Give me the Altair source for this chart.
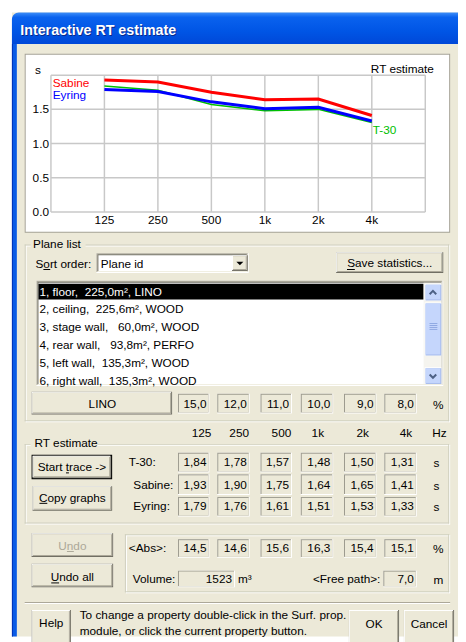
import altair as alt
import pandas as pd

# ---------------- data ----------------
bands = ["125", "250", "500", "1k", "2k", "4k"]
t30 = [1.84, 1.78, 1.57, 1.48, 1.50, 1.31]
sabine = [1.93, 1.90, 1.75, 1.64, 1.65, 1.41]
eyring = [1.79, 1.76, 1.61, 1.51, 1.53, 1.33]
lino_abs = [15.0, 12.0, 11.0, 10.0, 9.0, 8.0]
mean_abs = [14.5, 14.6, 15.6, 16.3, 15.4, 15.1]
volume = 1523
free_path = 7.0
y_ticks = [0.0, 0.5, 1.0, 1.5]
plane_ids = [1, 2, 3, 4, 5, 6]
plane_names = ["floor", "ceiling", "stage wall", "rear wall", "left wall", "right wall"]
plane_areas = [225.0, 225.6, 60.0, 93.8, 135.3, 135.3]
plane_materials = ["LINO", "WOOD", "WOOD", "PERFO", "WOOD", "WOOD"]

# ---------------- layout / style ----------------
FONT = "Liberation Sans"
FACE = "#ECE9D8"
W, H = 458, 634
CX = alt.Scale(domain=[8, 466], range=[0, W])
CY = alt.Scale(domain=[642, 8], range=[H, 0])
CHX = alt.Scale(domain=[-1, 6], range=[43.7, 424.7])
CHY = alt.Scale(domain=[0, 2], range=[202.0, 62.7])
COLS = [(181, 213), (221, 254), (265, 297), (306, 339), (350, 383), (391, 424)]


def fmt(v, d):
    return f"{v:.{d}f}".replace(".", ",")


R = []


def fill(x1, y1, x2, y2, c):
    R.append({"x": x1, "x2": x2, "y": y1, "y2": y2, "c": c})


def frame(x1, y1, x2, y2, c):
    fill(x1, y1, x2, y1 + 1, c)
    fill(x1, y2 - 1, x2, y2, c)
    fill(x1, y1, x1 + 1, y2, c)
    fill(x2 - 1, y1, x2, y2, c)


def etched(x1, y1, x2, y2):
    frame(x1 + 1, y1 + 1, x2 + 1, y2 + 1, "#FFFFFF")
    frame(x1, y1, x2, y2, "#D0D0BF")


def raised(x1, y1, x2, y2, face=FACE):
    fill(x1, y1, x2, y2, "#716F64")
    fill(x1, y1, x2 - 1, y2 - 1, "#FFFFFF")
    fill(x1 + 1, y1 + 1, x2 - 1, y2 - 1, "#ACA899")
    fill(x1 + 1, y1 + 1, x2 - 2, y2 - 2, face)


def default_btn(x1, y1, x2, y2):
    fill(x1, y1, x2, y2, "#000000")
    raised(x1 + 1, y1 + 1, x2 - 1, y2 - 1)


def sunken(x1, y1, x2, y2, face):
    fill(x1, y1, x2, y2, "#FFFFFF")
    fill(x1, y1, x2 - 1, y2 - 1, "#ACA899")
    fill(x1 + 1, y1 + 1, x2 - 1, y2 - 1, "#F1EFE2")
    fill(x1 + 1, y1 + 1, x2 - 2, y2 - 2, "#716F64")
    fill(x1 + 2, y1 + 2, x2 - 2, y2 - 2, face)


def static_box(x1, y1, x2, y2):
    fill(x1, y1, x2, y2, "#FFFFFF")
    fill(x1, y1, x2 - 1, y2 - 1, "#9D9B8F")
    fill(x1 + 1, y1 + 1, x2 - 1, y2 - 1, FACE)


def xp_scroll_btn(x1, y1, x2, y2):
    fill(x1, y1, x2, y2, "#FFFFFF")
    fill(x1 + 1, y1 + 1, x2, y2, "#A6BBEC")
    fill(x1 + 1, y1 + 1, x2 - 1, y2 - 1, "#C5D6FC")


# window body and frame
fill(12, 7, 466, 642, FACE)
fill(12, 39, 17, 642, "#0A5BE6")
fill(12, 39, 13, 642, "#0032B8")

# chart box
fill(25, 49, 458, 231, "#A5A296")
fill(26, 50, 457, 230, "#FFFFFF")

# plane list group
etched(25, 243, 457, 423)
fill(31, 236, 87, 250, FACE)
sunken(98, 252, 253, 272, "#FFFFFF")
raised(236, 254, 252, 270)
raised(342, 251, 451, 272)
sunken(37, 280, 451, 387, "#FFFFFF")
fill(39, 283, 431, 299, "#000000")
fill(431, 282, 449, 385, "#F5F4EF")
xp_scroll_btn(432, 283, 449, 300)
xp_scroll_btn(432, 302, 449, 356)
xp_scroll_btn(432, 368, 449, 385)
for k in range(4):
    fill(437, 323 + 2 * k, 445, 324 + 2 * k, "#8FA8E2")
raised(32, 393, 175, 416)
for a, b in COLS:
    static_box(a, 395, b, 415)

# RT estimate group
etched(25, 446, 457, 527)
fill(31, 439, 99, 452, FACE)
default_btn(32, 457, 114, 482)
raised(33, 489, 114, 514)
for y1, y2 in [(455, 475), (477, 498), (500, 520)]:
    for a, b in COLS:
        static_box(a, y1, b, y2)

# undo / abs group
raised(32, 537, 115, 561)
raised(32, 568, 115, 592)
etched(127, 538, 457, 597)
for a, b in COLS:
    static_box(a, 543, b, 562)
static_box(181, 575, 239, 592)
static_box(390, 575, 424, 592)

# separator and bottom buttons
fill(25, 607, 458, 608, "#ACA899")
fill(25, 608, 458, 609, "#FFFFFF")
raised(32, 615, 72, 650)
raised(355, 615, 406, 650)
raised(411, 615, 462, 650)

# keyboard-accelerator underlines
fill(44, 268, 51, 269, "#000000")       # S_o_rt order
fill(353, 268, 361, 269, "#000000")     # _S_ave statistics
fill(67, 475, 70, 476, "#000000")       # Start _t_race
fill(40, 506, 48, 507, "#000000")       # _C_opy graphs
fill(68, 555, 75, 556, "#ACA899")       # U_n_do
fill(52, 587, 60, 588, "#000000")       # _U_ndo all

# ---------------- texts ----------------
T = []


def txt(x, y, t, c="#000000", al="left", w="normal", s=12):
    T.append({"x": x, "y": y, "t": t, "c": c, "al": al, "w": w, "s": s})


txt(21.5, 26.5, "Interactive RT estimate", "#0A2A8C", "left", "bold", 14.5)
txt(20.5, 25.5, "Interactive RT estimate", "#FFFFFF", "left", "bold", 14.5)

txt(35.5, 65.5, "s")
txt(441.5, 64.5, "RT estimate", al="right")
txt(53.5, 78.3, "Sabine", "#FF0000")
txt(53.5, 90.5, "Eyring", "#0000FF")

txt(33.5, 243, "Plane list")
txt(36, 262.5, "Sort order:")
txt(102.5, 262.5, "Plane id")
txt(396.5, 262, "Save statistics...", al="center")
for k in range(6):
    area = f"{plane_areas[k]:6.1f}".replace(".", ",").replace(" ", "\u00a0")
    row = f"{plane_ids[k]}, {plane_names[k]},\u00a0{area}m², {plane_materials[k]}"
    txt(40, 291 + 18.14 * k, row, "#FFFFFF" if k == 0 else "#000000")
txt(104, 405.5, "LINO", al="center")
for (a, b), v in zip(COLS, lino_abs):
    txt(b - 3, 405.5, fmt(v, 1), al="right")
txt(446, 406, "%", al="center")

hdr_x = [205, 243.3, 286.3, 323.3, 369, 413]
for hx, b in zip(hdr_x, bands):
    txt(hx, 435, b, al="center")
txt(447, 435, "Hz", al="center")

txt(35, 445.5, "RT estimate")
txt(73, 469.5, "Start trace ->", al="center")
txt(73.5, 501, "Copy graphs", al="center")
rt_rows = [("T-30:", 131, t30, 465), ("Sabine:", 135.5, sabine, 487.5), ("Eyring:", 135.5, eyring, 509)]
for lab, lx, vals, yy in rt_rows:
    txt(lx, yy, lab)
    for (a, b), v in zip(COLS, vals):
        txt(b - 3, yy, fmt(v, 2), al="right")
    txt(444, yy + 1, "s", al="center")

txt(73.5, 550, "Undo", "#ACA899", al="center")
txt(73.5, 581.5, "Undo all", al="center")
txt(131, 552, "<Abs>:")
for (a, b), v in zip(COLS, mean_abs):
    txt(b - 3, 552.5, fmt(v, 1), al="right")
txt(446, 553, "%", al="center")
txt(135, 584, "Volume:")
txt(236, 584, f"{volume}", al="right")
txt(242, 584, "m³")
txt(387, 584, "<Free path>:", al="right")
txt(421, 584, fmt(free_path, 1), al="right")
txt(446, 585, "m", al="center")

txt(52, 628.5, "Help", al="center")
txt(81, 620, "To change a property double-click in the Surf. prop.")
txt(81, 636.5, "module, or click the current property button.")
txt(380.5, 629, "OK", al="center")
txt(436.5, 629, "Cancel", al="center")

# ---------------- layers ----------------
rect_df = pd.DataFrame(R)
rects = alt.Chart(rect_df).mark_rect().encode(
    x=alt.X("x:Q", scale=CX, axis=None), x2="x2",
    y=alt.Y("y:Q", scale=CY, axis=None), y2="y2",
    color=alt.Color("c:N", scale=None),
)

title_df = pd.DataFrame([{"x": 12, "x2": 466, "y": 7, "y2": 39}])
title_bar = alt.Chart(title_df).mark_rect(
    cornerRadiusTopLeft=7,
    color=alt.Gradient(
        gradient="linear", x1=0, x2=0, y1=0, y2=1,
        stops=[alt.GradientStop(offset=0, color="#3D8DF8"),
               alt.GradientStop(offset=0.15, color="#0A62EE"),
               alt.GradientStop(offset=0.6, color="#0055E5"),
               alt.GradientStop(offset=1, color="#0048D8")],
    ),
).encode(
    x=alt.X("x:Q", scale=CX, axis=None), x2="x2",
    y=alt.Y("y:Q", scale=CY, axis=None), y2="y2",
)

# scrollbar arrows and combo arrow
arrow_up = alt.Chart(pd.DataFrame([{"x": 440.5, "y": 292}])).mark_point(
    shape="M -1 0.5 L 0 -0.5 L 1 0.5", filled=False, strokeWidth=2, size=45, color="#4D6185", opacity=1
).encode(x=alt.X("x:Q", scale=CX, axis=None), y=alt.Y("y:Q", scale=CY, axis=None))
arrow_dn = alt.Chart(pd.DataFrame([{"x": 440.5, "y": 377}])).mark_point(
    shape="M -1 -0.5 L 0 0.5 L 1 -0.5", filled=False, strokeWidth=2, size=45, color="#4D6185", opacity=1
).encode(x=alt.X("x:Q", scale=CX, axis=None), y=alt.Y("y:Q", scale=CY, axis=None))
combo_arrow = alt.Chart(pd.DataFrame([{"x": 244, "y": 262.5}])).mark_point(
    shape="M -1 -0.5 L 1 -0.5 L 0 0.5 Z", filled=True, size=50, color="#000000", opacity=1
).encode(x=alt.X("x:Q", scale=CX, axis=None), y=alt.Y("y:Q", scale=CY, axis=None))

text_df = pd.DataFrame(T)
text_layers = []
for (al, w), g in text_df.groupby(["al", "w"], sort=False):
    text_layers.append(
        alt.Chart(g.reset_index(drop=True)).mark_text(
            align=al, baseline="middle", font=FONT, fontWeight=w
        ).encode(
            x=alt.X("x:Q", scale=CX, axis=None),
            y=alt.Y("y:Q", scale=CY, axis=None),
            text="t:N",
            color=alt.Color("c:N", scale=None),
            size=alt.Size("s:Q", scale=None),
        )
    )

# ---------------- the RT chart itself ----------------
vgrid = pd.DataFrame({"i": list(range(-1, 7))})
vgrid["lo"] = 0.0
vgrid["hi"] = 2.0
grid_v = alt.Chart(vgrid).mark_rule(color="#C8C8C8", strokeWidth=1.5).encode(
    x=alt.X("i:Q", scale=CHX, axis=None), y=alt.Y("lo:Q", scale=CHY, axis=None), y2="hi")
hgrid = pd.DataFrame({"v": [0.0, 0.5, 1.0, 1.5, 2.0]})
hgrid["a"] = -1
hgrid["b"] = 6
grid_h = alt.Chart(hgrid).mark_rule(color="#C8C8C8", strokeWidth=1.5).encode(
    y=alt.Y("v:Q", scale=CHY, axis=None), x=alt.X("a:Q", scale=CHX, axis=None), x2="b")

line_layers = []
for name, vals, col, sw in [("T-30", t30, "#00C000", 1.6),
                             ("Eyring", eyring, "#0000FF", 3),
                             ("Sabine", sabine, "#FF0000", 3)]:
    df = pd.DataFrame({"i": list(range(len(bands))), "rt": vals})
    line_layers.append(
        alt.Chart(df).mark_line(color=col, strokeWidth=sw).encode(
            x=alt.X("i:Q", scale=CHX, axis=None), y=alt.Y("rt:Q", scale=CHY, axis=None))
    )

ylab = pd.DataFrame({"v": y_ticks, "lab": [f"{v:.1f}" for v in y_ticks]})
ylab["i"] = -1
ylabels = alt.Chart(ylab).mark_text(align="right", baseline="middle", dx=-2, font=FONT, fontSize=12, color="#000000").encode(
    x=alt.X("i:Q", scale=CHX, axis=None), y=alt.Y("v:Q", scale=CHY, axis=None), text="lab:N")
xlab = pd.DataFrame({"i": list(range(len(bands))), "lab": bands})
xlab["v"] = 0.0
xlabels = alt.Chart(xlab).mark_text(align="center", baseline="middle", dy=8.5, font=FONT, fontSize=12, color="#000000").encode(
    x=alt.X("i:Q", scale=CHX, axis=None), y=alt.Y("v:Q", scale=CHY, axis=None), text="lab:N")
t30lab = pd.DataFrame({"i": [len(bands) - 1], "rt": [t30[-1]], "lab": ["T-30"]})
t30label = alt.Chart(t30lab).mark_text(align="left", baseline="middle", dx=1, dy=8, font=FONT, fontSize=12, color="#00C000").encode(
    x=alt.X("i:Q", scale=CHX, axis=None), y=alt.Y("rt:Q", scale=CHY, axis=None), text="lab:N")

chart = alt.layer(
    rects, title_bar, arrow_up, arrow_dn, combo_arrow, *text_layers,
    grid_v, grid_h, *line_layers, ylabels, xlabels, t30label,
).resolve_scale(x="independent", y="independent").properties(
    width=W, height=H, padding=0, autosize=alt.AutoSizeParams(type="none"),
    background="#FFFFFF",
).configure_view(stroke=None)

chart.save("out.html", embed_options={"renderer": "svg", "actions": False})
